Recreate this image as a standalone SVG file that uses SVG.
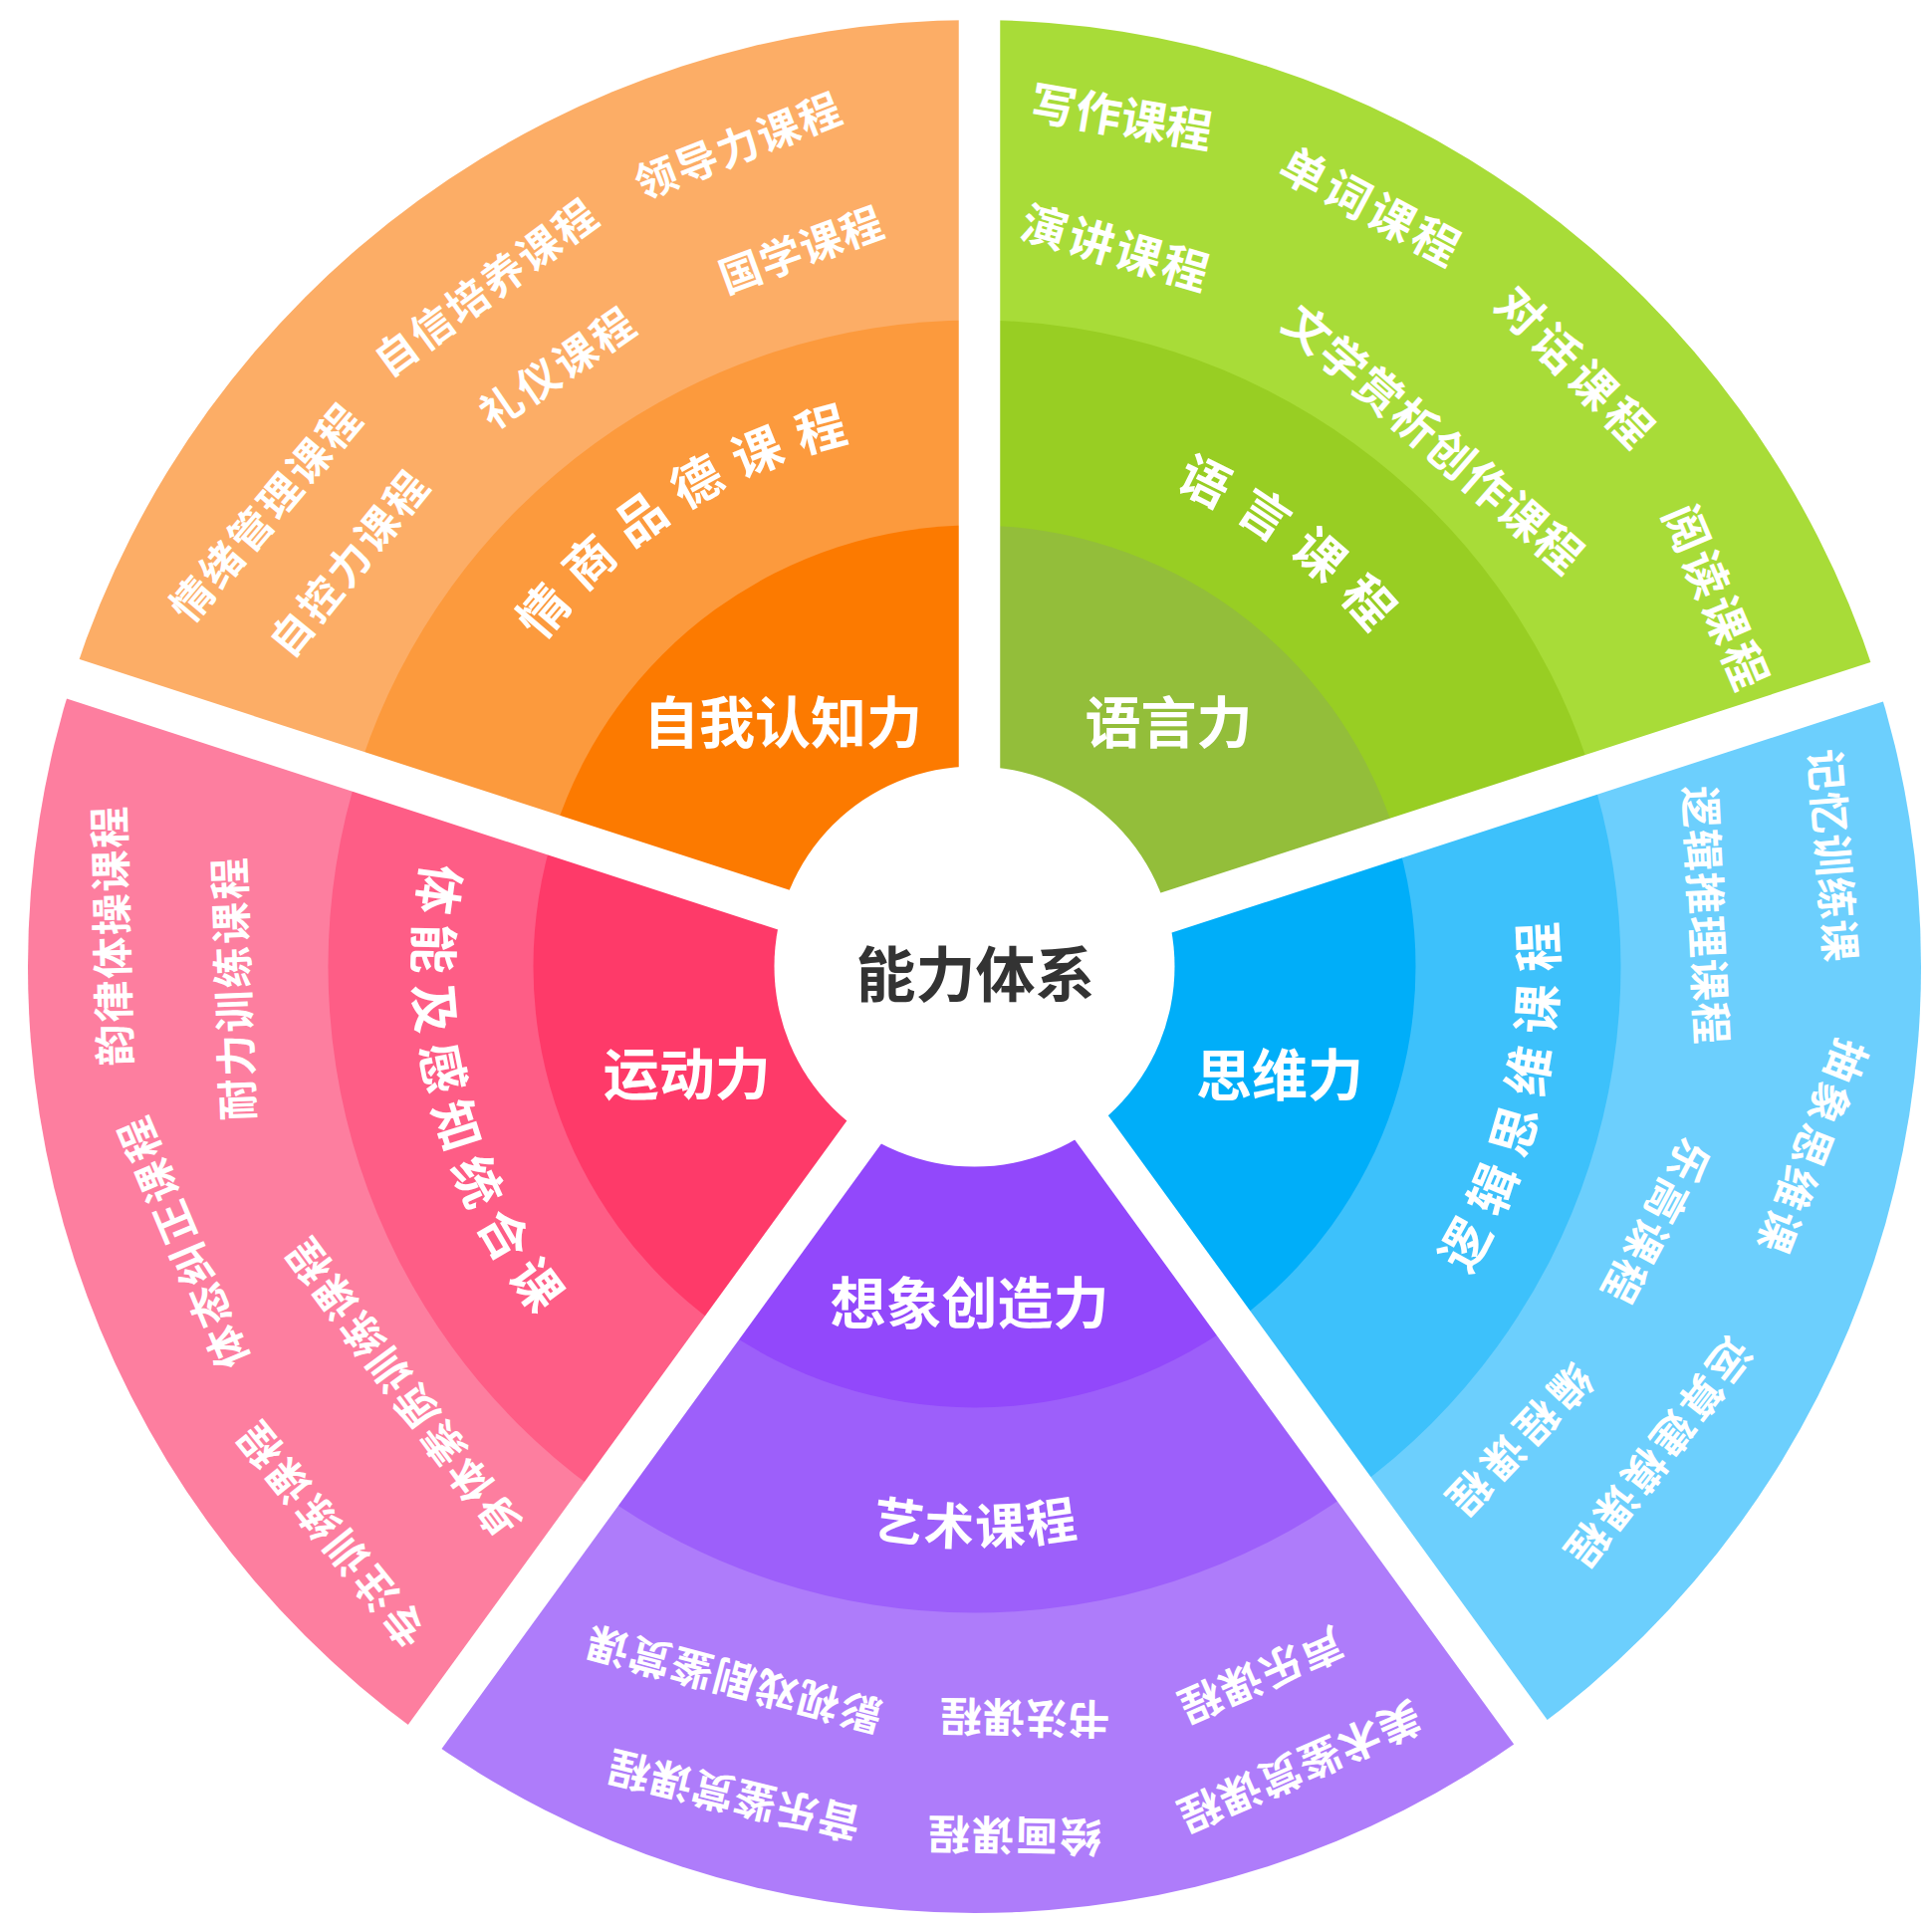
<svg xmlns="http://www.w3.org/2000/svg" width="1940" height="1934" viewBox="0 0 1940 1934">
<style>
.t{font-family:"Noto Sans CJK SC","Noto Sans CJK JP",sans-serif;fill:#fff;text-anchor:middle;dominant-baseline:central;font-weight:700}
.o{font-size:42px}
.g{font-size:46px}
.m{font-size:50px}
.i{font-size:56px}
.c{font-size:60px;fill:#333}
.gap{stroke:#fff;stroke-width:41.5;fill:none}
</style>
<defs>
<path id="a1" d="M481.03,1238.36 A565,565 0 0 1 1421.70,620.23"/>
<path id="a2" d="M570.57,612.12 A543,543 0 0 1 1442.45,1252.60"/>
<path id="a3" d="M892.37,1526.87 A563,563 0 0 0 1159.94,437.54"/>
<path id="a4" d="M803.58,459.61 A540,540 0 0 0 1062.04,1504.00"/>
<path id="a5" d="M421.63,1019.22 A559,559 0 0 0 1535.37,1019.22"/>
</defs>
<rect width="1940" height="1934" fill="#fff"/>

<g id="self-awareness">
<path fill="#FCAD66" d="M978.5,970.5 L74.52,676.78 A950.5,950.5 0 0 1 978.5,20 Z"/>
<path fill="#FC9A3D" d="M978.5,970.5 L361.26,769.95 A649,649 0 0 1 978.5,321.5 Z"/>
<path fill="#FC7A00" d="M978.5,970.5 L557.18,833.61 A443,443 0 0 1 978.5,527.5 Z"/>
<text class="t i" x="786" y="721.7">自我认知力</text>
<text class="t m" letter-spacing="18"><textPath href="#a1" startOffset="847.2">情商品德课程</textPath></text>
<text class="t o" letter-spacing="2" transform="translate(740.6 143.7) rotate(-21.4)">领导力课程</text>
<text class="t o" letter-spacing="2.5" transform="translate(486.8 286) rotate(-36.4)">自信培养课程</text>
<text class="t o" letter-spacing="1" transform="translate(803.7 248) rotate(-20.1)">国学课程</text>
<text class="t o" letter-spacing="3" transform="translate(558.8 366.7) rotate(-34.4)">礼仪课程</text>
<text class="t o" letter-spacing="3.4" transform="translate(265.4 512) rotate(-49.7)">情绪管理课程</text>
<text class="t o" letter-spacing="3.4" transform="translate(349 563.3) rotate(-50.9)">自控力课程</text>
</g>

<g id="language">
<path fill="#A8DC38" d="M978.5,970.5 L978.5,20 A950.5,950.5 0 0 1 1882.48,676.78 Z"/>
<path fill="#98CE23" d="M978.5,970.5 L978.5,321.5 A649,649 0 0 1 1595.74,769.95 Z"/>
<path fill="#93BE3A" d="M978.5,970.5 L978.5,527.5 A443,443 0 0 1 1399.82,833.61 Z"/>
<text class="t i" x="1173.4" y="721.7">语言力</text>
<text class="t m" letter-spacing="19"><textPath href="#a2" startOffset="815.1">语言课程</textPath></text>
<text class="t g" letter-spacing="0" transform="translate(1126.5 114.4) rotate(9.6)">写作课程</text>
<text class="t g" letter-spacing="4" transform="translate(1378.7 205.4) rotate(28.1)">单词课程</text>
<text class="t g" letter-spacing="3" transform="translate(1122 246.4) rotate(16.3)">演讲课程</text>
<text class="t g" letter-spacing="6" transform="translate(1585.5 368.2) rotate(45.7)">对话课程</text>
<text class="t g" letter-spacing="1.8" transform="translate(1441.7 438.6) rotate(41.1)">文学赏析创作课程</text>
<text class="t g" letter-spacing="4" transform="translate(1726.4 600) rotate(67)">阅读课程</text>
</g>

<g id="thinking">
<path fill="#6CCFFD" d="M978.5,970.5 L1882.48,676.78 A950.5,950.5 0 0 1 1537.19,1739.47 Z"/>
<path fill="#3DC1FB" d="M978.5,970.5 L1595.74,769.95 A649,649 0 0 1 1359.97,1495.55 Z"/>
<path fill="#00AEF9" d="M978.5,970.5 L1399.82,833.61 A443,443 0 0 1 1238.89,1328.89 Z"/>
<text class="t i" x="1284.9" y="1075">思维力</text>
<text class="t m" letter-spacing="12"><textPath href="#a3" startOffset="841.2">逻辑思维课程</textPath></text>
<text class="t o" letter-spacing="1" transform="translate(1843.3 859) rotate(85.5)">记忆训练课</text>
<text class="t o" letter-spacing="1.5" transform="translate(1716 919.3) rotate(87.2)">逻辑推理课程</text>
<text class="t o" letter-spacing="4" transform="translate(1821.9 1153.7) rotate(111.4)">抽象思维课</text>
<text class="t o" letter-spacing="3.5" transform="translate(1665 1229) rotate(118.1)">乐高课程</text>
<text class="t o" letter-spacing="4.5" transform="translate(1666.5 1461.8) rotate(127.6)">运算建模课程</text>
<text class="t o" letter-spacing="7" transform="translate(1526 1450) rotate(133.5)">编程课程</text>
</g>

<g id="creativity">
<path fill="#AE7CFA" d="M978.5,970.5 L1537.19,1739.47 A950.5,950.5 0 0 1 419.81,1739.47 Z"/>
<path fill="#9D5FFA" d="M978.5,970.5 L1359.97,1495.55 A649,649 0 0 1 597.03,1495.55 Z"/>
<path fill="#9248FB" d="M978.5,970.5 L1238.89,1328.89 A443,443 0 0 1 718.11,1328.89 Z"/>
<text class="t i" x="973.6" y="1304.5">想象创造力</text>
<text class="t" style="font-size:50px" letter-spacing="1"><textPath href="#a5" startOffset="829.8">艺术课程</textPath></text>
<text class="t o" letter-spacing="1.7" transform="translate(736 1689) rotate(194.7)">影视戏剧鉴赏课</text>
<text class="t o" letter-spacing="1" transform="translate(1029 1727.7) rotate(181)">书法课程</text>
<text class="t o" letter-spacing="2" transform="translate(1266.4 1685) rotate(156.3)">声乐课程</text>
<text class="t o" letter-spacing="1.3" transform="translate(736 1806) rotate(193.5)">音乐鉴赏课程</text>
<text class="t o" letter-spacing="2" transform="translate(1018 1846) rotate(181)">绘画课程</text>
<text class="t o" letter-spacing="1.7" transform="translate(1305.7 1777) rotate(156.3)">美术鉴赏课程</text>
</g>

<g id="motor">
<path fill="#FD7E9F" d="M978.5,970.5 L419.81,1739.47 A950.5,950.5 0 0 1 74.52,676.78 Z"/>
<path fill="#FE5D86" d="M978.5,970.5 L597.03,1495.55 A649,649 0 0 1 361.26,769.95 Z"/>
<path fill="#FE3A69" d="M978.5,970.5 L718.11,1328.89 A443,443 0 0 1 557.18,833.61 Z"/>
<text class="t i" x="689.7" y="1074">运动力</text>
<text class="t m" letter-spacing="9.5"><textPath href="#a4" startOffset="805.9">体能及感知统合课</textPath></text>
<text class="t o" letter-spacing="1.7" transform="translate(109.7 939.3) rotate(-91.4)">韵律体操课程</text>
<text class="t o" letter-spacing="2.4" transform="translate(231.7 992.2) rotate(-92.1)">耐力训练课程</text>
<text class="t o" letter-spacing="3.2" transform="translate(181 1248) rotate(-112.9)">体态纠正课程</text>
<text class="t o" letter-spacing="3.5" transform="translate(401.7 1394.8) rotate(-126.5)">身体素质训练课程</text>
<text class="t o" letter-spacing="4.4" transform="translate(330.5 1541.5) rotate(-128.8)">专注训练课程</text>
</g>

<g id="separators">
<line class="gap" x1="983.5" y1="977.5" x2="983.5" y2="-122.5"/>
<line class="gap" x1="983.5" y1="977.5" x2="2029.66" y2="637.58"/>
<line class="gap" x1="983.5" y1="977.5" x2="1630.06" y2="1867.42"/>
<line class="gap" x1="983.5" y1="977.5" x2="336.94" y2="1867.42"/>
<line class="gap" x1="983.5" y1="977.5" x2="-62.66" y2="637.58"/>
</g>

<g id="center">
<circle cx="978.5" cy="970.5" r="201" fill="#fff"/>
<text class="t c" x="979.5" y="974">能力体系</text>
</g>
</svg>
